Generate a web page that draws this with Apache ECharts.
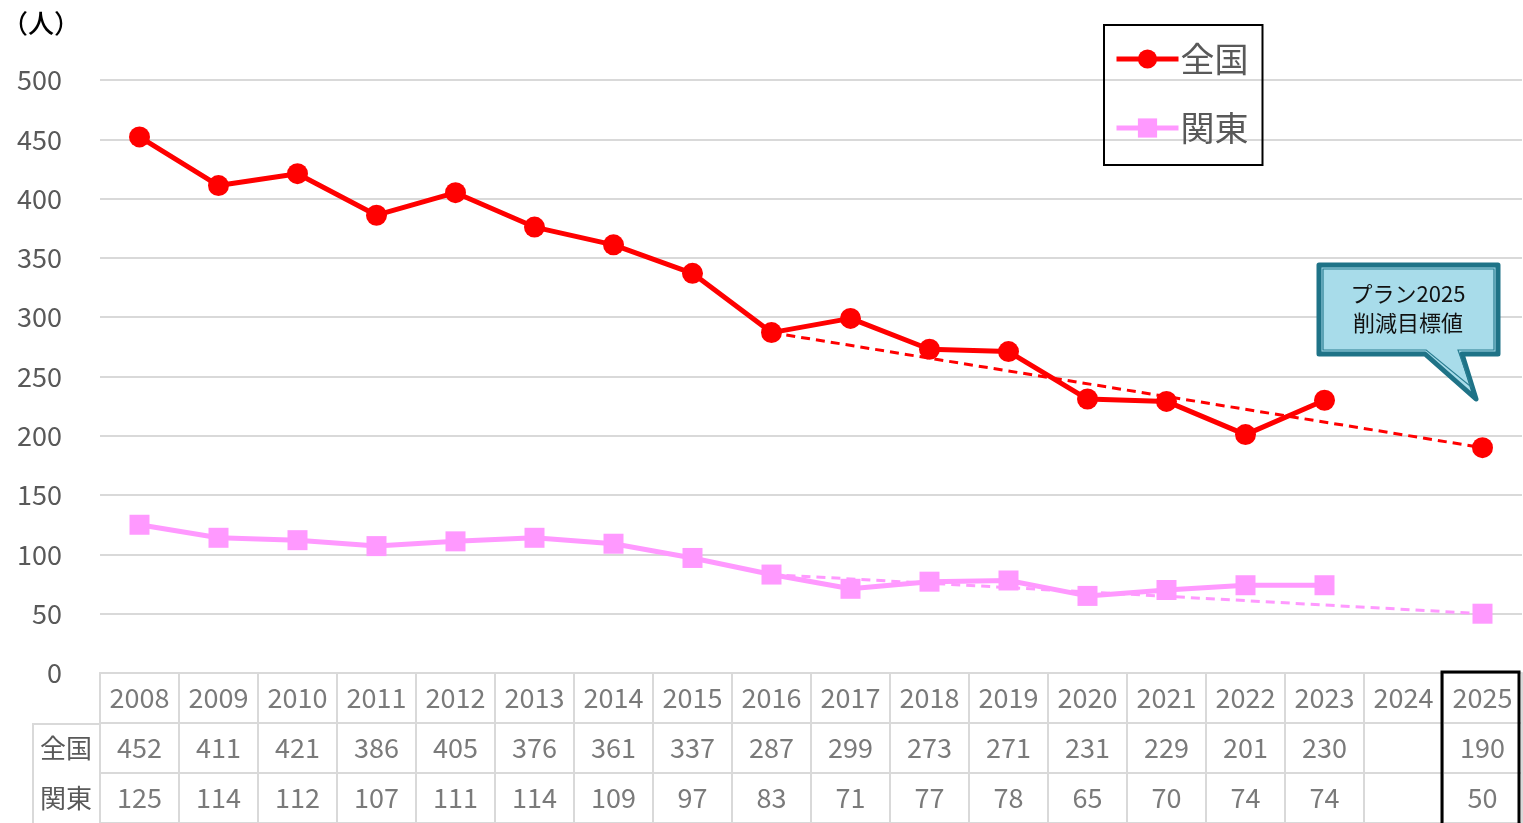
<!DOCTYPE html>
<html>
<head>
<meta charset="utf-8">
<script src="https://cdn.jsdelivr.net/npm/echarts@6/dist/echarts.min.js"></script>
<style>
  html, body { margin: 0; padding: 0; background: #fff; }
  #main { width: 1523px; height: 823px; }
</style>
</head>
<body>
<div id="main"></div>
<script>
// 年度
const years = ['2008', '2009', '2010', '2011', '2012', '2013', '2014', '2015', '2016',
  '2017', '2018', '2019', '2020', '2021', '2022', '2023', '2024', '2025']
// 全国・関東（人）
const zenkoku = [452, 411, 421, 386, 405, 376, 361, 337, 287, 299, 273, 271, 231, 229, 201, 230, null, 190]
const kanto = [125, 114, 112, 107, 111, 114, 109, 97, 83, 71, 77, 78, 65, 70, 74, 74, null, 50]
// 目標線（2016 → 2025）
const zenkokuGoal = [null, null, null, null, null, null, null, null, 287, null, null, null, null, null, null, null, null, 190]
const kantoGoal = [null, null, null, null, null, null, null, null, 83, null, null, null, null, null, null, null, null, 50]
const yTicks = [0, 50, 100, 150, 200, 250, 300, 350, 400, 450, 500]
const rows = ['関東', '全国', '']

const FONT = '"Noto Sans CJK JP", "Noto Sans", sans-serif'
const GREY = '#595959'
const LINE = '#d9d9d9'
const RED = '#ff0000'
const PINK = '#ff99ff'

// layout
const L = 100, R = 1, TOP = 80, PLOT_BOTTOM = 673, ROW_H = 51
const catW = (1523 - L - R) / years.length

const myChart = echarts.init(document.getElementById('main'))

// 表のテキスト
const tableText = (name, row, vals) => ({
  name: name,
  type: 'scatter',
  xAxisIndex: 1,
  yAxisIndex: 1,
  symbolSize: 1,
  itemStyle: { color: 'rgba(0,0,0,0)' },
  silent: true,
  data: vals.map((v, i) => v == null ? null : [years[i], row, v]).filter(d => d),
  label: {
    show: true,
    position: 'inside',
    formatter: p => p.value[2],
    fontSize: 27,
    fontFamily: FONT,
    color: GREY
  }
})

// 吹き出し
const bx0 = 1319, bx1 = 1498, by0 = 265, by1 = 354
const bubble = (d) => [
  [bx0 + d, by0 + d], [bx1 - d, by0 + d], [bx1 - d, by1 - d], [1462 - d, by1 - d],
  [1476 - d * 1.2, 399 - d * 3], [1425 + d * 0.3, by1 - d], [bx0 + d, by1 - d]
]

const option = {
  animation: false,
  textStyle: { fontFamily: FONT },
  title: {
    text: '（人）',
    left: 2,
    top: 10,
    padding: 0,
    textStyle: { fontSize: 26, fontWeight: 500, color: '#000', fontFamily: FONT }
  },
  legend: {
    data: ['全国', '関東'],
    orient: 'vertical',
    left: 1104,
    top: 25,
    padding: [17, 14, 20, 10],
    itemGap: 35,
    itemWidth: 62,
    itemHeight: 24,
    borderColor: '#000',
    borderWidth: 2,
    lineStyle: { width: 5 },
    textStyle: { fontSize: 34, color: GREY, fontFamily: FONT, padding: [0, 0, 0, -3] }
  },
  grid: [
    { left: L, right: R, top: TOP, height: PLOT_BOTTOM - TOP },
    { left: L, right: R, top: PLOT_BOTTOM, height: ROW_H * 3 }
  ],
  xAxis: [
    {
      type: 'category', data: years, gridIndex: 0,
      axisLine: { show: false }, axisTick: { show: false }, axisLabel: { show: false }
    },
    {
      type: 'category', data: years, gridIndex: 1, position: 'top',
      axisLine: { show: true, lineStyle: { color: LINE, width: 2 } },
      axisTick: { show: false }, axisLabel: { show: false },
      splitLine: { show: true, interval: 0, lineStyle: { color: LINE, width: 2 } }
    }
  ],
  yAxis: [
    {
      type: 'value', gridIndex: 0, min: yTicks[0], max: yTicks[yTicks.length - 1], interval: 50,
      axisLine: { show: false }, axisTick: { show: false },
      axisLabel: { fontSize: 27, color: GREY, margin: 38, fontFamily: FONT },
      splitLine: { lineStyle: { color: LINE, width: 2 } }
    },
    {
      type: 'category', data: rows, gridIndex: 1,
      axisLine: { show: true, lineStyle: { color: LINE, width: 2 } },
      axisTick: { show: false },
      axisLabel: { fontSize: 26, color: GREY, margin: 8, fontFamily: FONT },
      splitLine: { show: true, interval: 0, lineStyle: { color: LINE, width: 2 } }
    }
  ],
  series: [
    {
      name: '全国目標', type: 'line', data: zenkokuGoal, connectNulls: true, showSymbol: false,
      lineStyle: { color: RED, width: 3, type: [9, 6] }, silent: true, z: 1
    },
    {
      name: '関東目標', type: 'line', data: kantoGoal, connectNulls: true, showSymbol: false,
      lineStyle: { color: PINK, width: 3, type: [9, 6] }, silent: true, z: 1
    },
    {
      name: '全国', type: 'line', data: zenkoku, symbol: 'circle', symbolSize: 21,
      itemStyle: { color: RED }, lineStyle: { color: RED, width: 5 }, z: 3
    },
    {
      name: '関東', type: 'line', data: kanto, symbol: 'rect', symbolSize: 20,
      itemStyle: { color: PINK }, lineStyle: { color: PINK, width: 5 }, z: 2
    },
    tableText('年', '', years),
    tableText('全国表', '全国', zenkoku),
    tableText('関東表', '関東', kanto)
  ],
  graphic: [
    // 行見出しの枠
    {
      type: 'polyline', silent: true,
      shape: { points: [[L, PLOT_BOTTOM + ROW_H], [33, PLOT_BOTTOM + ROW_H], [33, 830]] },
      style: { stroke: LINE, lineWidth: 2, fill: null }
    },
    // 2025 の枠
    {
      type: 'rect', silent: true, z: 100,
      shape: { x: L + catW * 17 - 1, y: PLOT_BOTTOM - 1, width: catW - 2, height: 170 },
      style: { stroke: '#000', lineWidth: 3, fill: null }
    },
    // 吹き出し
    {
      type: 'polygon', silent: true, z: 100,
      shape: { points: bubble(0) },
      style: { fill: '#a8dcea', stroke: '#1f7387', lineWidth: 5, lineJoin: 'round' }
    },
    {
      type: 'polygon', silent: true, z: 101,
      shape: { points: bubble(4) },
      style: { fill: null, stroke: '#2a7e92', lineWidth: 1.2 }
    },
    {
      type: 'text', silent: true, z: 102,
      x: 1408, y: 308,
      style: {
        text: 'プラン2025\n削減目標値', fill: '#111', font: '22px ' + FONT,
        align: 'center', verticalAlign: 'middle', lineHeight: 29
      }
    }
  ]
}

option && myChart.setOption(option)
window.addEventListener('resize', function () {
  myChart.resize()
})
</script>
</body>
</html>
